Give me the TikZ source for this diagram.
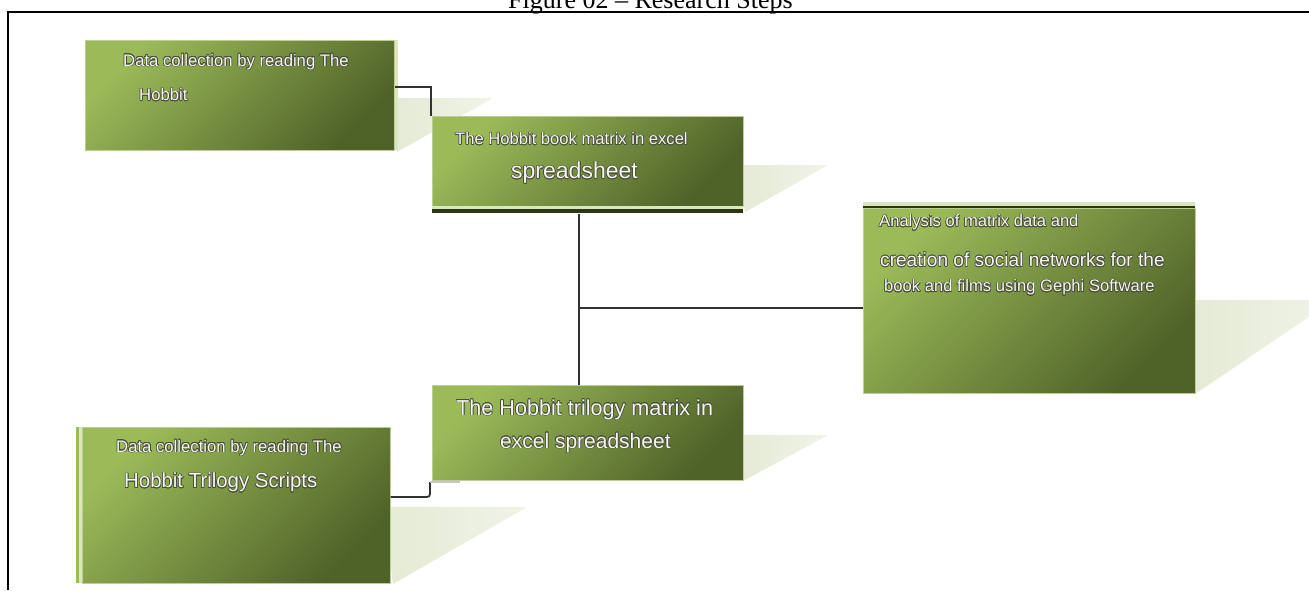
\documentclass[tikz,border=0pt]{standalone}
\usepackage{fontspec}
\setmainfont{Liberation Serif}
\newfontfamily\arialf{Liberation Sans}
\usepackage{contour}
\contourlength{0.6pt}
\contournumber{16}
\definecolor{boxlight}{RGB}{155,187,89}
\definecolor{boxdark}{RGB}{79,98,40}
\definecolor{shadowc}{RGB}{228,234,212}
\definecolor{pale}{RGB}{218,230,188}
\definecolor{linec}{RGB}{50,50,50}
\definecolor{txt}{RGB}{246,246,236}
\definecolor{edgec}{RGB}{72,78,60}
\definecolor{boxrim}{RGB}{188,206,148}
\newcommand{\glow}[1]{\contour{edgec}{#1}}
\tikzset{
  x=1pt, y=-1pt,
  box/.style={rectangle, inner sep=0, anchor=north west, draw=boxrim, line width=0.6,
    top color=boxlight, bottom color=boxdark, shading angle=45},
  shadowpoly/.style={left color=shadowc, right color=shadowc!55!white, draw=none},
  conn/.style={draw=linec, line width=1.8},
  lbl/.style={inner sep=0, anchor=west, text=txt, font=\arialf\fontsize{#1}{#1}\selectfont},
}
\begin{document}
\begin{tikzpicture}
\useasboundingbox (0,0) rectangle (1309,590);
\fill[white] (0,0) rectangle (1309,590);

% caption and frame
\node[anchor=base west, inner sep=0, font=\fontsize{26}{26}\selectfont] (cap) at (508,8) {Figure 02 -- Research Steps};
\draw[line width=2.2] (8,590) -- (8,12) -- (1309,12);

% shadows
\shade[shadowpoly] (390,98) -- (493,98) -- (397,152) -- cycle;
\shade[shadowpoly] (736,165) -- (828,165) -- (745,212) -- cycle;
\shade[shadowpoly] (736,435) -- (828,435) -- (743,481) -- cycle;
\shade[shadowpoly] (1188,300) -- (1334,300) -- (1195,394) -- cycle;
\shade[shadowpoly] (383,507) -- (527,507) -- (393,584) -- cycle;

% coordinates for connectors
\coordinate (a1) at (412,87);
\coordinate (b1) at (431,0);
\coordinate (v) at (579,0);
\coordinate (j) at (579,308);
\coordinate (e1) at (0,497);
\coordinate (c2) at (430,482);

% boxes
\node[box, minimum width=309, minimum height=110] (A) at (85,40) {};
\node[box, minimum width=311, minimum height=90] (B) at (432,116) {};
\node[box, minimum width=311, minimum height=95] (C) at (432,385) {};
\node[box, minimum width=332, minimum height=185] (D) at (863,208) {};
\node[box, minimum width=308, minimum height=156] (E) at (82,427) {};

% decorative stripes
\fill[pale] (395,40) rectangle (398,150);
\fill[pale] (432,206) rectangle (743,208.5);
\fill[boxdark!55!black] (432,208.5) rectangle (743,213);
\fill[pale] (863,202) rectangle (1195,205.5);
\fill[boxdark!55!black] (863,205.5) rectangle (1195,208);
\fill[boxlight] (76,427) rectangle (79,583);
\fill[pale] (79,427) rectangle (82,583);

% connectors
\draw[conn] (A.east |- a1) -| (b1 |- B.north);
\draw[conn] (v |- B.south) ++(0,7) -- (v |- C.north);
\draw[conn] (j) -- (j -| D.west);
\draw[conn, rounded corners=3] (E.east |- e1) -| (c2);
\draw[gray!45, line width=1.5] (c2) -- ++(30,0);

% labels
\node[lbl=16.7] (a-t1) at (123,62) {\glow{Data collection by reading The}};
\node[lbl=16.7] (a-t2) at (139,95) {\glow{Hobbit}};
\node[lbl=16.6] (b-t1) at (455,139) {\glow{The Hobbit book matrix in excel}};
\node[lbl=23] (b-t2) at (511,173) {\glow{spreadsheet}};
\node[lbl=21.6] (c-t1) at (456,410) {\glow{The Hobbit trilogy matrix in}};
\node[lbl=21] (c-t2) at (500,443) {\glow{excel spreadsheet}};
\node[lbl=16.6] (d-t1) at (879,223) {\glow{Analysis of matrix data and}};
\node[lbl=19.1] (d-t2) at (880,260) {\glow{creation of social networks for the}};
\node[lbl=16.6] (d-t3) at (884,288) {\glow{book and films using Gephi Software}};
\node[lbl=16.7] (e-t1) at (116,448) {\glow{Data collection by reading The}};
\node[lbl=20.4] (e-t2) at (124,483) {\glow{Hobbit Trilogy Scripts}};
\end{tikzpicture}
\end{document}
